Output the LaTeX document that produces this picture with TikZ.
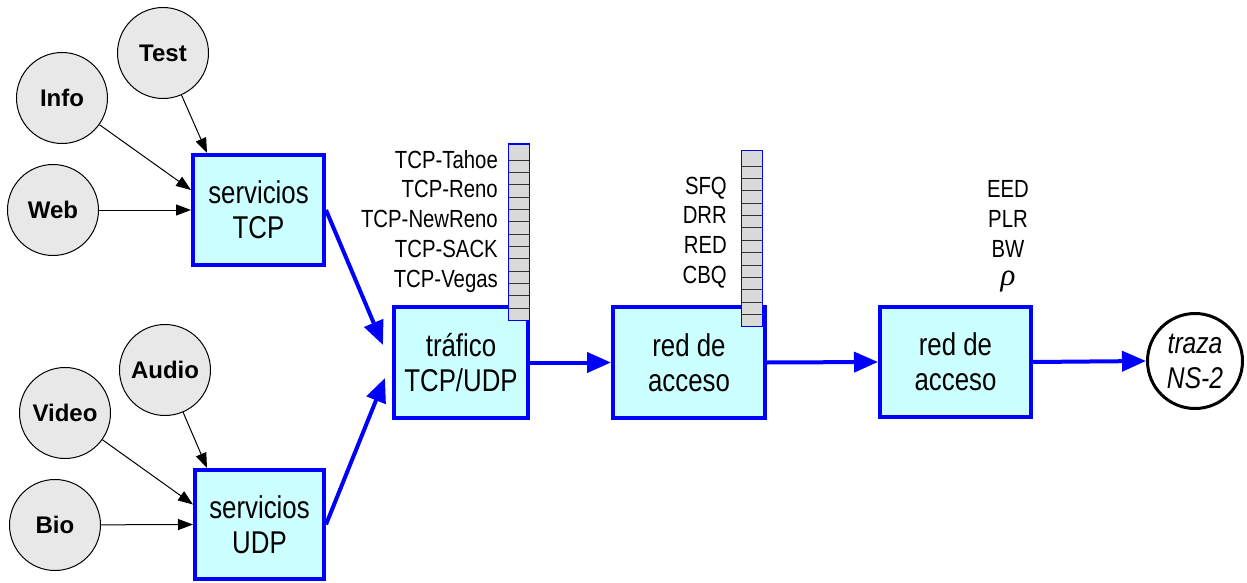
\documentclass[tikz,border=0pt]{standalone}
\usepackage{fontspec}
\setmainfont{Liberation Sans}
\newfontfamily\narrowfont[FakeStretch=0.82]{Liberation Sans}
\newfontfamily\greekfont{Liberation Serif}
\usetikzlibrary{arrows.meta,calc}
\definecolor{boxfill}{HTML}{CCFFFF}
\definecolor{circfill}{HTML}{E8E8E8}
\definecolor{queuefill}{HTML}{D9D9D9}
\definecolor{pureblue}{HTML}{0000FF}
\begin{document}
\begin{tikzpicture}[x=1pt,y=-1pt,
  src/.style={circle,draw=black,line width=1pt,fill=circfill,minimum size=91pt,inner sep=0pt,
    font=\bfseries\fontsize{24}{28}\selectfont},
  proc/.style={rectangle,draw=pureblue,line width=4pt,fill=boxfill,align=center,inner sep=0pt,
    font=\narrowfont\fontsize{31.5}{35}\selectfont},
  sink/.style={circle,draw=black,line width=3pt,fill=white,minimum size=95pt,inner sep=0pt,
    align=center,font=\narrowfont\itshape\fontsize{30}{35}\selectfont},
  lab/.style={inner sep=0pt,font=\narrowfont\fontsize{24.8}{28}\selectfont},
  greeklab/.style={inner sep=0pt,text height=13pt,text depth=8pt,
    font=\greekfont\itshape\fontsize{31}{33}\selectfont},
  thinarrow/.style={draw=black,line width=1pt,-{Triangle[length=15pt,width=11pt]}},
  thickarrow/.style={draw=pureblue,line width=4pt,-{Triangle[length=24pt,width=20pt]}},
  queue/.style={draw=pureblue,fill=queuefill,line width=1pt},
  qline/.style={draw=black!80,line width=1pt}
]
\useasboundingbox (0,0) rectangle (1247,583);

% source circles
\node[src] (test)  at (163,53)  {Test};
\node[src] (info)  at (62,98)   {Info};
\node[src] (web)   at (53,210)  {Web};
\node[src] (audio) at (165,370) {Audio};
\node[src] (video) at (65,413)  {Video};
\node[src] (bio)   at (55,525)  {Bio};

% process boxes
\node[proc,minimum width=131pt,minimum height=110pt] (tcp)  at (258.5,210)   {servicios\\TCP};
\node[proc,minimum width=129pt,minimum height=109pt] (udp)  at (259.5,524.5) {servicios\\UDP};
\node[proc,minimum width=134pt,minimum height=111pt] (traf) at (461,362.5)   {tráfico\\TCP/UDP};
\node[proc,minimum width=152pt,minimum height=111pt] (red1) at (689,362.5)   {red de\\acceso};
\node[proc,minimum width=151pt,minimum height=110pt] (red2) at (955.5,362)   {red de\\acceso};

% output
\node[sink] (traza) at (1195,361) {traza\\NS-2};

% queues
\filldraw[queue] (508,144) rectangle (529,320);
\foreach \k in {0,...,12} \draw[qline] (508.5,{160+\k*12.36}) -- (528.5,{160+\k*12.36});
\filldraw[queue] (741,150) rectangle (762,326);
\foreach \k in {0,...,12} \draw[qline] (741.5,{166+\k*12.39}) -- (761.5,{166+\k*12.39});

% labels
\node[lab,anchor=base east] (l1) at (498,168) {TCP-Tahoe};
\node[lab,anchor=base east] (l2) at (498,197) {TCP-Reno};
\node[lab,anchor=base east] (l3) at (498,227) {TCP-NewReno};
\node[lab,anchor=base east] (l4) at (498,257) {TCP-SACK};
\node[lab,anchor=base east] (l5) at (498,287) {TCP-Vegas};

\node[lab,anchor=base east] (q1) at (727,194) {SFQ};
\node[lab,anchor=base east] (q2) at (727,223) {DRR};
\node[lab,anchor=base east] (q3) at (727,253) {RED};
\node[lab,anchor=base east] (q4) at (727,283) {CBQ};

\node[lab,anchor=base] (m1) at (1008,197) {EED};
\node[lab,anchor=base] (m2) at (1008,227) {PLR};
\node[lab,anchor=base] (m3) at (1008,257) {BW};
\node[greeklab,anchor=base] (m4) at (1008,285) {ρ};

% thin arrows
\draw[thinarrow] (test)  -- ($(tcp.north west)+(16,0)$);
\draw[thinarrow] (info)  -- ($(tcp.west)+(0,-20)$);
\draw[thinarrow] (web)   -- (tcp.west);
\draw[thinarrow] (audio) -- ($(udp.north west)+(14,0)$);
\draw[thinarrow] (video) -- ($(udp.west)+(0,-20)$);
\draw[thinarrow] (bio)   -- (udp.west);

% thick arrows
\draw[thickarrow] (tcp.east) -- ($(traf.west)+(-9,-17.5)$);
\draw[thickarrow] (udp.east) -- ($(traf.west)+(-7,15.5)$);
\draw[thickarrow] (traf.east) -- (red1.west);
\draw[thickarrow] (red1.east) -- (red2.west);
\draw[thickarrow] (red2.east) -- (traza.west);
\end{tikzpicture}
\end{document}
